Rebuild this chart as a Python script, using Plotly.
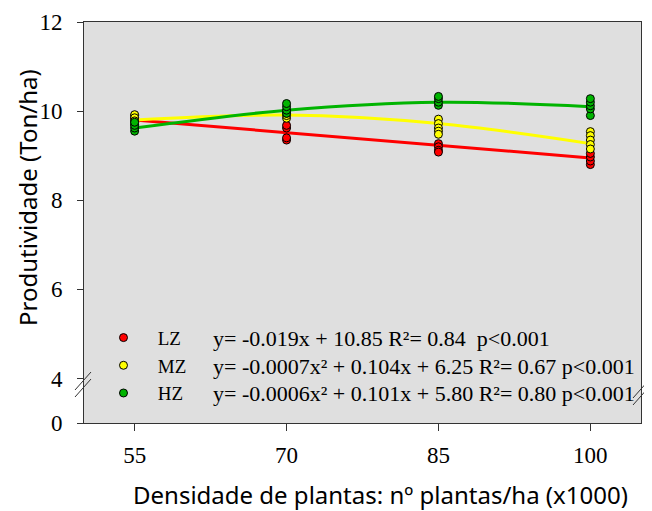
import plotly.graph_objects as go

# Plant density (x1000 plants/ha)
densities = [55, 70, 85, 100]

lz_obs = [[9.90, 9.85, 9.80, 9.75], [9.35, 9.40, 9.62, 9.68], [9.27, 9.20, 9.12, 9.08], [8.80, 8.88, 8.97, 9.05]]
mz_obs = [[9.92, 9.85, 9.78, 9.70], [9.84, 9.90, 9.95, 10.00], [9.82, 9.72, 9.62, 9.55, 9.48], [9.54, 9.45, 9.35, 9.25, 9.15]]
hz_obs = [[9.55, 9.62, 9.68, 9.75], [9.95, 10.02, 10.10, 10.17], [10.13, 10.20, 10.28, 10.33], [9.90, 10.05, 10.12, 10.20, 10.28]]

# Fitted curves at each density
lz_fit = [9.80, 9.52, 9.24, 8.95]
mz_fit = [9.80, 9.91, 9.72, 9.27]
hz_fit = [9.62, 10.02, 10.20, 10.10]

names = ["LZ", "MZ", "HZ"]
colors = ["#FF0000", "#FFFF00", "#00B400"]
equations = [
    "y= -0.019x + 10.85 R²= 0.84  p<0.001",
    "y= -0.0007x² + 0.104x + 6.25 R²= 0.67 p<0.001",
    "y= -0.0006x² + 0.101x + 5.80 R²= 0.80 p<0.001",
]

# y-axis tick positions (axis is broken: 0 is drawn one unit below 4)
ytick_vals = [3, 4, 6, 8, 10, 12]
ytick_text = ["0", "4", "6", "8", "10", "12"]

x_title = "Densidade de plantas: nº plantas/ha (x1000)"
y_title = "Produtividade (Ton/ha)"

fig = go.Figure()

fits = [lz_fit, mz_fit, hz_fit]
obs = [lz_obs, mz_obs, hz_obs]

for name, col, fit in zip(names, colors, fits):
    fig.add_trace(go.Scatter(
        x=densities, y=fit, mode="lines",
        line=dict(color=col, width=3, shape="spline" if name != "LZ" else "linear"),
        showlegend=False, hoverinfo="skip"))

for name, col, ob in zip(names, colors, obs):
    xs, ys = [], []
    for d, vals in zip(densities, ob):
        xs += [d] * len(vals)
        ys += vals
    fig.add_trace(go.Scatter(
        x=xs, y=ys, mode="markers", name="\u00a0\u00a0\u00a0" + name,
        marker=dict(color=col, size=8, line=dict(color="black", width=1))))

serif = "Liberation Serif"
H = 401.0  # plot height in px
W = 557.0  # plot width in px

def px(xp):
    return (xp - 84) / W

def py(yp):
    return (423 - yp) / H

for i, eq in enumerate(equations):
    fig.add_annotation(
        x=px(213), y=py([338, 366, 393][i]), xref="paper", yref="paper",
        text=eq, showarrow=False, xanchor="left", yanchor="middle", xshift=-2,
        font=dict(family=serif, size=22, color="black"))

fig.add_annotation(x=px(380), y=py(495), xref="paper", yref="paper", text=x_title,
                   showarrow=False, xanchor="center", yanchor="middle",
                   font=dict(family="Noto Sans", size=24, color="black"))
fig.add_annotation(x=px(27), y=py(198), xref="paper", yref="paper", text=y_title,
                   showarrow=False, xanchor="center", yanchor="middle", textangle=-90,
                   font=dict(family="Noto Sans", size=24, color="black"))

# axis break marks
for dy in [0, 7]:
    fig.add_shape(type="line", xref="paper", yref="paper",
                  x0=px(75), y0=py(390 + dy), x1=px(91), y1=py(372 + dy),
                  line=dict(color="#333333", width=1))
    fig.add_shape(type="line", xref="paper", yref="paper",
                  x0=px(633), y0=py(398 + dy), x1=px(649), y1=py(380 + dy),
                  line=dict(color="#333333", width=1))

fig.update_layout(
    width=644, height=503,
    margin=dict(l=76, r=11, t=14, b=88),
    paper_bgcolor="white", plot_bgcolor="#DFDFDF",
    font=dict(family=serif, size=20, color="black"),
    legend=dict(x=0.035, y=0.26, xanchor="left", yanchor="top",
                bgcolor="rgba(0,0,0,0)", font=dict(family=serif, size=19),
                tracegroupgap=0),
    xaxis=dict(range=[50, 105], tickvals=densities, ticks="outside", ticklen=7,
               tickcolor="#333333", showgrid=False, zeroline=False, automargin=False,
               showline=True, linecolor="#333333", linewidth=1, mirror=True,
               ticklabelstandoff=4,
               tickfont=dict(family=serif, size=23)),
    yaxis=dict(range=[3, 12], tickvals=ytick_vals, ticktext=ytick_text,
               ticks="outside", ticklen=6, tickcolor="#333333", automargin=False,
               showgrid=False, zeroline=False, ticklabelstandoff=10,
               showline=True, linecolor="#333333", linewidth=1, mirror=True,
               tickfont=dict(family=serif, size=23)),
)

fig.write_html("out.html")
